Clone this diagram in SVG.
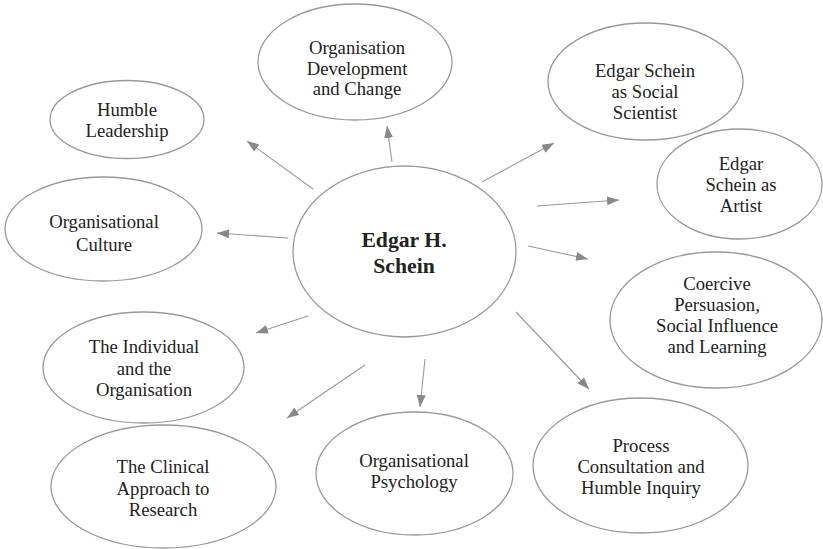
<svg xmlns="http://www.w3.org/2000/svg" width="823" height="549" viewBox="0 0 823 549">
<style>
.node ellipse{fill:#fff;stroke:#999;stroke-width:1.3}
.node text{font-family:'Liberation Serif',serif;font-size:18.7px;fill:#222;text-anchor:middle}
.node text.main{font-weight:bold;font-size:21.7px}
.conn line{stroke:#999;stroke-width:1.1;marker-end:url(#ah)}
</style>
<defs>
<marker id="ah" markerUnits="userSpaceOnUse" markerWidth="13" markerHeight="10" refX="12" refY="4.5" orient="auto">
<path d="M0,0 L12,4.5 L0,9 z" fill="#88888c"/>
</marker>
</defs>
<rect width="823" height="549" fill="#fff"/>
<g id="connectors" class="conn">
<line x1="313" y1="189" x2="247" y2="141"/>
<line x1="392" y1="162" x2="387" y2="126"/>
<line x1="482" y1="182" x2="554" y2="143"/>
<line x1="537" y1="206" x2="619" y2="200"/>
<line x1="528" y1="246" x2="588" y2="259"/>
<line x1="516" y1="312" x2="589" y2="389"/>
<line x1="425" y1="359" x2="420" y2="407"/>
<line x1="365" y1="365" x2="287" y2="418"/>
<line x1="308" y1="316" x2="256" y2="333"/>
<line x1="288" y1="238" x2="217" y2="233"/>
</g>
<g font-family="Liberation Serif, serif">
<g id="center" class="node">
<ellipse cx="404.5" cy="251.5" rx="111.5" ry="85.5"/>
<text class="main" x="404" y="247">Edgar H.</text>
<text class="main" x="404" y="273">Schein</text>
</g>
<g id="orgdev" class="node">
<ellipse cx="355" cy="62" rx="97" ry="58"/>
<text x="357" y="54">Organisation</text>
<text x="357" y="74.5">Development</text>
<text x="357" y="95">and Change</text>
</g>
<g id="humble" class="node">
<ellipse cx="127" cy="119.5" rx="77" ry="39"/>
<text x="127" y="116">Humble</text>
<text x="127" y="137">Leadership</text>
</g>
<g id="culture" class="node">
<ellipse cx="103.5" cy="229" rx="98.5" ry="52"/>
<text x="104" y="228">Organisational</text>
<text x="104" y="251">Culture</text>
</g>
<g id="individual" class="node">
<ellipse cx="143.5" cy="367.5" rx="100.5" ry="55.5"/>
<text x="144" y="353">The Individual</text>
<text x="144" y="374.5">and the</text>
<text x="144" y="396">Organisation</text>
</g>
<g id="clinical" class="node">
<ellipse cx="163.5" cy="486.5" rx="112.5" ry="61.5"/>
<text x="163" y="473">The Clinical</text>
<text x="163" y="494.5">Approach to</text>
<text x="163" y="516">Research</text>
</g>
<g id="psychology" class="node">
<ellipse cx="414.5" cy="473.5" rx="98.5" ry="61.5"/>
<text x="414" y="467">Organisational</text>
<text x="414" y="488">Psychology</text>
</g>
<g id="process" class="node">
<ellipse cx="640.5" cy="465.5" rx="107.5" ry="67.5"/>
<text x="641" y="452">Process</text>
<text x="641" y="473">Consultation and</text>
<text x="641" y="494">Humble Inquiry</text>
</g>
<g id="coercive" class="node">
<ellipse cx="716" cy="320" rx="106" ry="68"/>
<text x="717" y="290">Coercive</text>
<text x="717" y="311">Persuasion,</text>
<text x="717" y="332">Social Influence</text>
<text x="717" y="353">and Learning</text>
</g>
<g id="artist" class="node">
<ellipse cx="739.5" cy="184" rx="82.5" ry="55"/>
<text x="741" y="170">Edgar</text>
<text x="741" y="191">Schein as</text>
<text x="741" y="212">Artist</text>
</g>
<g id="scientist" class="node">
<ellipse cx="645.5" cy="81.5" rx="97.5" ry="58.5"/>
<text x="645" y="77">Edgar Schein</text>
<text x="645" y="98">as Social</text>
<text x="645" y="119">Scientist</text>
</g>
</g>
</svg>
